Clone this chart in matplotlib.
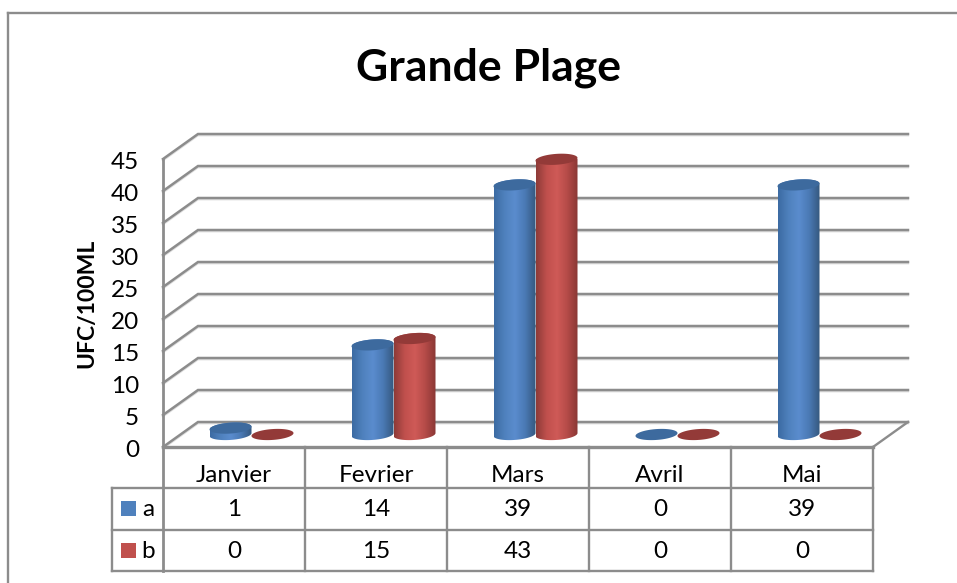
# Grande Plage - cylindres 3D avec table de donnees
import numpy as np
import matplotlib
matplotlib.use("Agg")
import matplotlib.pyplot as plt
from matplotlib.colors import LinearSegmentedColormap
from matplotlib.lines import Line2D
from matplotlib.patches import Polygon, Rectangle

categories = ["Janvier", "Fevrier", "Mars", "Avril", "Mai"]
serie_a = [1, 14, 39, 0, 39]
serie_b = [0, 15, 43, 0, 0]
yticks = [0, 5, 10, 15, 20, 25, 30, 35, 40, 45]

W, H = 957, 583
plt.rcParams["font.family"] = ["Lato", "DejaVu Sans"]

GRID = "#8c8c8c"
DEPTH_X = 35 / 142
DEPTH_Y = 25 / 6.4
BAR_W = 42 / 142
ELL_H = 0.85
TILT = 0.22
FS = 17.5

cmap_a = LinearSegmentedColormap.from_list("a", ["#3c6ba3", "#4f81bd", "#5a8cce", "#4a79b4", "#35597f"])
cmap_b = LinearSegmentedColormap.from_list("b", ["#8e3b38", "#c0504d", "#cf5a57", "#b54b48", "#8a3735"])


def px(x, y):
    return x / W, 1 - y / H


def hline(x0, y0, x1, y1, color=GRID, lw=1.7):
    fig.add_artist(Line2D([x0 / W, x1 / W], [1 - y0 / H, 1 - y1 / H], color=color, lw=lw,
                          solid_capstyle="projecting"))


def ellipse(cx, cy, t):
    return (cx + BAR_W / 2 * np.cos(t),
            cy + ELL_H * np.sin(t) + TILT * np.cos(t))


def cylinder(ax, cx, base, value, cmap, top_color):
    t = np.linspace(0, 2 * np.pi, 80)
    tx, ty = ellipse(cx, base + value, t)
    if value > 0:
        t1 = np.linspace(0, np.pi, 40)
        t2 = np.linspace(np.pi, 2 * np.pi, 40)
        x1, y1 = ellipse(cx, base + value, t1)
        x2, y2 = ellipse(cx, base, t2)
        side = Polygon(np.c_[np.r_[x1, x2], np.r_[y1, y2]], closed=True, transform=ax.transData)
        grad = np.linspace(0, 1, 64).reshape(1, -1)
        im = ax.imshow(grad, cmap=cmap, aspect="auto", zorder=3,
                       extent=[cx - BAR_W / 2, cx + BAR_W / 2, base - 2, base + value + 2])
        im.set_clip_path(side)
    ax.fill(tx, ty, color=top_color, lw=0, zorder=3, clip_on=False)


fig = plt.figure(figsize=(W / 100, H / 100), dpi=100, facecolor="white")
ax = fig.add_axes([163 / W, 1 - 447 / H, 710 / W, 288 / H])
ax.set_xlim(-0.5, 4.5)
ax.set_ylim(0, 45)
ax.axis("off")

# murs et grille
for v in yticks:
    xs = [-0.5, -0.5 + DEPTH_X, 4.5 + DEPTH_X]
    ys = [v, v + DEPTH_Y, v + DEPTH_Y]
    ax.plot(xs, [y - 0.2 for y in ys], color="#dedede", lw=1.6, clip_on=False, zorder=1)
    ax.plot(xs, ys, color=GRID, lw=1.8, clip_on=False, zorder=1, solid_joinstyle="miter")
    ax.text(-0.5 - 24 / 142, v - 0.55, str(v), ha="right", va="center",
            fontsize=FS, color="black", clip_on=False)
ax.plot([-0.5, -0.5], [0, 45], color=GRID, lw=2, clip_on=False, zorder=2)
ax.plot([4.5, 4.5 + DEPTH_X], [0, DEPTH_Y], color=GRID, lw=1.7, clip_on=False, zorder=2)
ax.plot([-0.5, 4.5], [0, 0], color=GRID, lw=2.4, clip_on=False, zorder=2)

# cylindres
base = DEPTH_Y / 2
for i, (a, b) in enumerate(zip(serie_a, serie_b)):
    c = i + DEPTH_X / 2
    cylinder(ax, c - BAR_W / 2, base, a, cmap_a, "#3d6a9e")
    cylinder(ax, c + BAR_W / 2, base, b, cmap_b, "#933a38")

# table de donnees
cols = np.linspace(163, 873, len(categories) + 1)
rows = [447, 488, 530, 571]
for x in cols[1:]:
    hline(x, rows[0], x, rows[3])
hline(163, rows[0], 163, rows[3], lw=2)
hline(112, rows[1], 112, rows[3])
for y in rows[1:]:
    hline(112, y, 873, y)

for i, cat in enumerate(categories):
    xc = (cols[i] + cols[i + 1]) / 2
    fig.text(*px(xc, 475), cat, ha="center", va="center", fontsize=FS)
    fig.text(*px(xc, 510), str(serie_a[i]), ha="center", va="center", fontsize=FS)
    fig.text(*px(xc, 552), str(serie_b[i]), ha="center", va="center", fontsize=FS)

for name, color, y in [("a", "#4f81bd", 508), ("b", "#c0504d", 550)]:
    fig.add_artist(Rectangle((121 / W, 1 - (y + 8) / H), 15 / W, 15 / H, color=color,
                             transform=fig.transFigure, lw=0))
    fig.text(*px(148, y + 1.5), name, ha="center", va="center", fontsize=FS)

# cadre, titres
hline(8, 13, 8, 583)
hline(8, 13, 957, 13)
fig.text(*px(489, 68), "Grande Plage", ha="center", va="center", fontsize=32, fontweight="bold")
fig.text(*px(87, 303), "UFC/100ML", ha="center", va="center", rotation=90, fontsize=16.5, fontweight="bold")

fig.savefig("out.png", dpi=100)
